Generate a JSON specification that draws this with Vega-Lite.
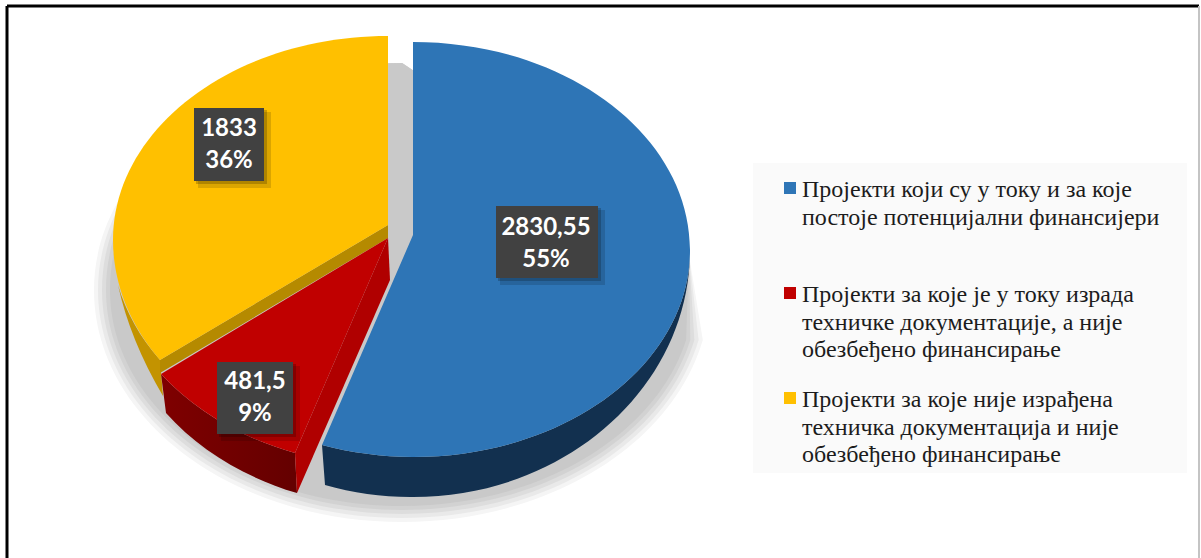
{
  "$schema": "https://vega.github.io/schema/vega-lite/v6.json",
  "width": 1192,
  "height": 552,
  "padding": {"left": 7, "top": 6, "right": 2, "bottom": 0},
  "autosize": "none",
  "background": "#ffffff",
  "config": {"view": {"stroke": null}},
  "data": {"values": [
    {"project": "Пројекти који су у току и за које|постоје потенцијални финансијери| ", "value": 2830.55, "share": 55, "label": "2830,55\n55%", "slice": "blue"},
    {"project": "Пројекти за које је у току израда|техничке документације, а није|обезбеђено финансирање", "value": 481.5, "share": 9, "label": "481,5\n9%", "slice": "red"},
    {"project": "Пројекти за које није израђена|техничка документација и није|обезбеђено финансирање", "value": 1833, "share": 36, "label": "1833\n36%", "slice": "yellow"}
  ]},
  "resolve": {"scale": {"shape": "independent"}},
  "layer": [
    {
      "description": "Frame around the figure",
      "data": {"values": [{"edge": "frame"}]},
      "mark": {"type": "rule", "color": "#000000", "strokeWidth": 3},
      "encoding": {"y": {"value": 0}}
    },
    {
      "data": {"values": [{"edge": "frame"}]},
      "mark": {"type": "rule", "color": "#000000", "strokeWidth": 3},
      "encoding": {"x": {"value": 0}}
    },
    {
      "data": {"values": [{"edge": "frame"}]},
      "mark": {"type": "rule", "color": "#c4c4c4", "strokeWidth": 2},
      "encoding": {"x": {"value": 1192}}
    },
    {
      "description": "Soft floor shadow, outermost ring",
      "data": {"values": [{"ring": "r0"}]},
      "mark": {"type": "point", "filled": true, "size": 4, "opacity": 1, "strokeWidth": 0, "fill": "#f5f5f5",
        "shape": "M86 -27 L99.8 58 A308 232 0 0 1 -201 240 A308 232 0 0 1 -509 8 A308 227 0 0 1 -201 -219 Z"}
    },
    {
      "data": {"values": [{"ring": "r1"}]},
      "mark": {"type": "point", "filled": true, "size": 4, "opacity": 1, "strokeWidth": 0, "fill": "#e9e9e9",
        "shape": "M86 -27 L95.6 58 A304 228 0 0 1 -201 236 A304 228 0 0 1 -505 8 A304 227 0 0 1 -201 -219 Z"}
    },
    {
      "data": {"values": [{"ring": "r2"}]},
      "mark": {"type": "point", "filled": true, "size": 4, "opacity": 1, "strokeWidth": 0, "fill": "#dddddd",
        "shape": "M86 -27 L91.4 58 A300 224 0 0 1 -201 232 A300 224 0 0 1 -501 8 A300 227 0 0 1 -201 -219 Z"}
    },
    {
      "data": {"values": [{"ring": "r3"}]},
      "mark": {"type": "point", "filled": true, "size": 4, "opacity": 1, "strokeWidth": 0, "fill": "#d2d2d2",
        "shape": "M86 -27 L87.3 58 A296 220 0 0 1 -201 228 A296 220 0 0 1 -497 8 A296 227 0 0 1 -201 -219 Z"}
    },
    {
      "data": {"values": [{"ring": "r4"}]},
      "mark": {"type": "point", "filled": true, "size": 4, "opacity": 1, "strokeWidth": 0, "fill": "#c9c9c9",
        "shape": "M86 -27 L83.1 58 A292 216 0 0 1 -201 224 A292 216 0 0 1 -493 8 A292 227 0 0 1 -201 -219 Z"}
    },
    {
      "description": "Yellow slice: outer wall",
      "transform": [{"filter": "datum.slice === 'yellow'"}],
      "mark": {"type": "point", "filled": true, "size": 4, "opacity": 1, "strokeWidth": 0, "fill": "#c39300",
        "shape": "M-485 3 A275 215 0 0 0 -443 78 L-440 114 Q-473 58 -485 3 Z"}
    },
    {
      "description": "Yellow slice: inner cut face",
      "transform": [{"filter": "datum.slice === 'yellow'"}],
      "mark": {"type": "point", "filled": true, "size": 4, "opacity": 1, "strokeWidth": 0, "fill": "#b58a00",
        "shape": "M-443 78 L-215 -57 L-215 -44 L-443 91 Z"}
    },
    {
      "description": "Red slice: outer wall",
      "transform": [{"filter": "datum.slice === 'red'"}],
      "mark": {"type": "point", "filled": true, "size": 4, "opacity": 1, "strokeWidth": 0,
        "fill": {"gradient": "linear", "x1": 0, "x2": 1, "y1": 0, "y2": 0, "stops": [{"offset": 0, "color": "#7f0000"}, {"offset": 1, "color": "#640000"}]},
        "shape": "M-442 92 A280 225 0 0 0 -308 171 L-306 211 A280 225 0 0 1 -437 131 Z"}
    },
    {
      "description": "Red slice: inner cut face",
      "transform": [{"filter": "datum.slice === 'red'"}],
      "mark": {"type": "point", "filled": true, "size": 4, "opacity": 1, "strokeWidth": 0, "fill": "#b00000",
        "shape": "M-215 -44 L-213 -2 L-306 211 L-308 171 Z"}
    },
    {
      "description": "Blue slice: outer wall",
      "transform": [{"filter": "datum.slice === 'blue'"}],
      "mark": {"type": "point", "filled": true, "size": 4, "opacity": 1, "strokeWidth": 0, "fill": "#12304f",
        "shape": "M87 -32 A277 247 0 0 1 -190 215 A277 247 0 0 1 -278 203 L-281 163 A277 207 0 0 0 -190 175 A277 207 0 0 0 87 -32 Z"}
    },
    {
      "description": "Legend panel",
      "data": {"values": [{"panel": "legend"}]},
      "mark": {"type": "point", "filled": true, "size": 4, "opacity": 1, "strokeWidth": 0, "fill": "#fafafa",
        "shape": "M150 -119 L584 -119 L584 191 L150 191 Z"}
    },
    {
      "description": "Top faces of the three slices, angles follow the shares 55, 9 and 36 percent",
      "mark": {"type": "point", "filled": true, "size": 4, "opacity": 1, "strokeWidth": 0},
      "encoding": {
        "shape": {"field": "project", "sort": null, "legend": null, "scale": {"range": [
          "M-190 -240 A277 208 0 0 1 87 -32 A277 207 0 0 1 -190 175 A277 207 0 0 1 -281 163 L-190 -47 Z",
          "M-442 92 A280 225 0 0 0 -308 171 L-215 -44 Z",
          "M-215 -246 A275 204 0 0 0 -490 -42 A275 215 0 0 0 -443 78 L-215 -57 Z"
        ]}},
        "fill": {
          "field": "project",
          "sort": null,
          "scale": {"range": ["#2e75b6", "#c00000", "#ffc000"]},
          "legend": {
            "title": null,
            "orient": "none",
            "legendX": 771,
            "legendY": 170,
            "padding": 0,
            "symbolType": "square",
            "symbolSize": 144,
            "symbolStrokeWidth": 0,
            "symbolOpacity": 1,
            "labelFont": "Liberation Serif",
            "labelFontSize": 24,
            "labelColor": "#1c1c1c",
            "labelLimit": 600,
            "labelOffset": 0,
            "rowPadding": 24,
            "labelExpr": "split(datum.label, '|')",
            "encoding": {"labels": {"dy": {"value": 2}, "lineHeight": {"value": 27.5}}}
          }
        }
      }
    },
    {
      "description": "Soft drop shadow of the value boxes, wide pass",
      "mark": {"type": "point", "filled": true, "size": 4, "opacity": 0.14, "strokeWidth": 0, "fill": "#000000"},
      "encoding": {
        "shape": {"field": "project", "sort": null, "legend": null, "scale": {"range": [
          "M-103 -72 L2 -72 L2 3 L-103 3 Z",
          "M-382 84 L-303 84 L-303 159 L-382 159 Z",
          "M-405 -170 L-332 -170 L-332 -94 L-405 -94 Z"
        ]}}
      }
    },
    {
      "description": "Soft drop shadow of the value boxes, narrow pass",
      "mark": {"type": "point", "filled": true, "size": 4, "opacity": 0.2, "strokeWidth": 0, "fill": "#000000"},
      "encoding": {
        "shape": {"field": "project", "sort": null, "legend": null, "scale": {"range": [
          "M-105 -74 L-2 -74 L-2 -1 L-105 -1 Z",
          "M-384 82 L-307 82 L-307 155 L-384 155 Z",
          "M-407 -172 L-336 -172 L-336 -98 L-407 -98 Z"
        ]}}
      }
    },
    {
      "description": "Value boxes",
      "mark": {"type": "point", "filled": true, "size": 4, "opacity": 1, "strokeWidth": 0, "fill": "#414141"},
      "encoding": {
        "shape": {"field": "project", "sort": null, "legend": null, "scale": {"range": [
          "M-107 -76 L-5 -76 L-5 -4 L-107 -4 Z",
          "M-386 80 L-310 80 L-310 152 L-386 152 Z",
          "M-409 -174 L-339 -174 L-339 -101 L-409 -101 Z"
        ]}}
      }
    },
    {
      "transform": [{"filter": "datum.slice === 'blue'"}],
      "mark": {"type": "text", "font": "Lato", "fontWeight": "bold", "fontSize": 24, "color": "#ffffff", "lineBreak": "\n", "lineHeight": 32, "baseline": "middle", "align": "center", "dx": -57, "dy": -54},
      "encoding": {"text": {"field": "label"}}
    },
    {
      "transform": [{"filter": "datum.slice === 'red'"}],
      "mark": {"type": "text", "font": "Lato", "fontWeight": "bold", "fontSize": 24, "color": "#ffffff", "lineBreak": "\n", "lineHeight": 32, "baseline": "middle", "align": "center", "dx": -348, "dy": 100},
      "encoding": {"text": {"field": "label"}}
    },
    {
      "transform": [{"filter": "datum.slice === 'yellow'"}],
      "mark": {"type": "text", "font": "Lato", "fontWeight": "bold", "fontSize": 24, "color": "#ffffff", "lineBreak": "\n", "lineHeight": 32, "baseline": "middle", "align": "center", "dx": -374, "dy": -153},
      "encoding": {"text": {"field": "label"}}
    }
  ]
}
